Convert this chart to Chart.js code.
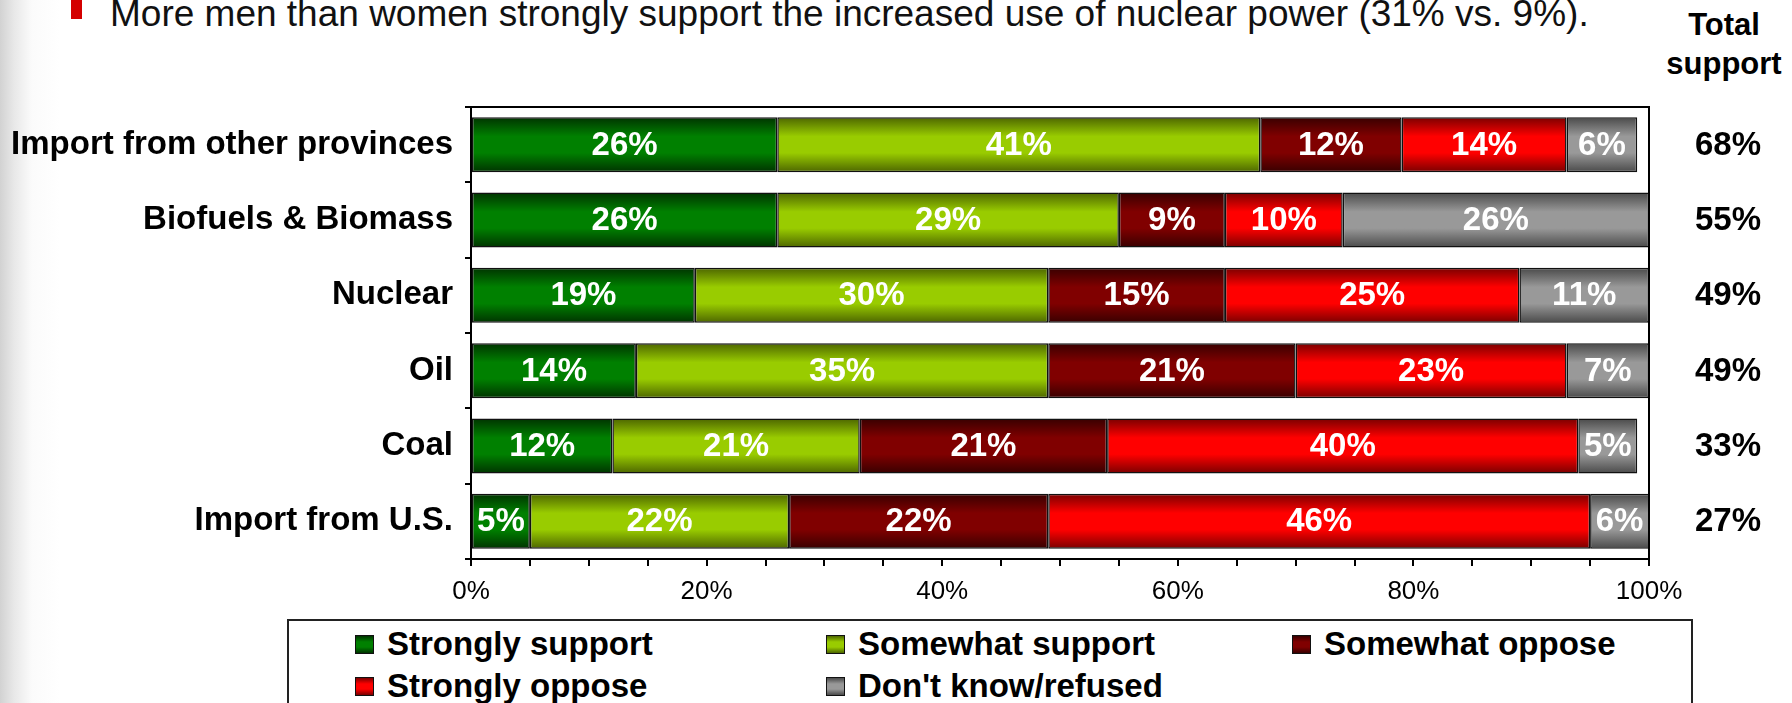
<!DOCTYPE html>
<html>
<head>
<meta charset="utf-8">
<script src="https://cdn.jsdelivr.net/npm/chart.js@4.4.1/dist/chart.umd.min.js"></script>
<style>
  html, body { margin: 0; padding: 0; }
  body {
    width: 1792px; height: 703px; overflow: hidden; position: relative;
    font-family: "Liberation Sans", Arial, sans-serif;
    background: linear-gradient(to right, #d2d2d2 0px, #e8e8e8 14px, #fbfbfb 32px, #fff 60px);
  }
  #chart { position: absolute; left: 0; top: 0; }
  .title { position: absolute; left: 110px; top: -5px; font-size: 37px; line-height: 37px; color: #111; white-space: nowrap; }
  .bullet { position: absolute; left: 71px; top: 0; width: 11px; height: 19px; background: #d40000; }
  .total-head { position: absolute; left: 1654px; top: 5px; width: 140px; text-align: center; font-weight: bold; font-size: 31px; line-height: 39px; color: #000; }
  .legend { position: absolute; left: 287px; top: 619px; width: 1402px; height: 120px; border: 2px solid #222; background: #fff; }
  .item { position: absolute; font-weight: bold; font-size: 33px; line-height: 33px; white-space: nowrap; color: #000; }
  .item i { position: absolute; left: -32px; top: 8px; width: 17px; height: 17px; border: 1px solid #111; }
</style>
</head>
<body>
<div class="bullet"></div>
<div class="title">More men than women strongly support the increased use of nuclear power (31% vs. 9%).</div>
<div class="total-head">Total<br>support</div>
<canvas id="chart" width="1792" height="703"></canvas>
<div class="legend" id="legend"></div>
<script>
const categories = ['Import from other provinces', 'Biofuels & Biomass', 'Nuclear', 'Oil', 'Coal', 'Import from U.S.'];
const seriesNames = ['Strongly support', 'Somewhat support', 'Somewhat oppose', 'Strongly oppose', "Don't know/refused"];

const strongSupport = [26, 26, 19, 14, 12, 5];
const someSupport = [41, 29, 30, 35, 21, 22];
const someOppose = [12, 9, 15, 21, 21, 22];
const strongOppose = [14, 10, 25, 23, 40, 46];
const dontKnow = [6, 26, 11, 7, 5, 6];
const totalSupport = [68, 55, 49, 49, 33, 27];

// mid colour and darker edge colour for each series gradient
const midColors = ['#008000', '#99cc00', '#800000', '#ff0000', '#999999'];
const edgeColors = ['#003300', '#4d6600', '#380000', '#7a0000', '#4a4a4a'];

const BAR_PCT = 0.73;

// vertical gradient for one bar, based on where the y scale puts its row
function barGradient(context, s) {
  const chart = context.chart;
  const area = chart.chartArea;
  const yScale = chart.scales.y;
  if (!area || !yScale || context.dataIndex === undefined) return midColors[s];
  const c = yScale.getPixelForValue(context.dataIndex);
  const h = (area.bottom - area.top) / categories.length * BAR_PCT;
  const g = chart.ctx.createLinearGradient(0, c - h / 2, 0, c + h / 2);
  g.addColorStop(0, edgeColors[s]);
  g.addColorStop(0.35, midColors[s]);
  g.addColorStop(0.65, midColors[s]);
  g.addColorStop(1, edgeColors[s]);
  return g;
}

const allSeries = [strongSupport, someSupport, someOppose, strongOppose, dontKnow];

const datasets = allSeries.map((values, s) => ({
  label: seriesNames[s],
  data: values,
  backgroundColor: (ctx) => barGradient(ctx, s),
  borderColor: '#111',
  borderWidth: 1.5,
  borderSkipped: false,
  categoryPercentage: 1,
  barPercentage: BAR_PCT
}));

// white value labels inside the segments + total support column + frame
const labelsPlugin = {
  id: 'barLabels',
  afterDatasetsDraw(chart) {
    const ctx = chart.ctx;
    const area = chart.chartArea;
    ctx.save();
    ctx.font = 'bold 33px "Liberation Sans", Arial, sans-serif';
    ctx.textAlign = 'center';
    ctx.textBaseline = 'middle';
    ctx.fillStyle = '#fff';
    chart.data.datasets.forEach((ds, di) => {
      const meta = chart.getDatasetMeta(di);
      meta.data.forEach((bar, i) => {
        const right = Math.min(bar.x, area.right);
        const x = (right + bar.base) / 2;
        ctx.fillText(ds.data[i] + '%', x, bar.y + 1);
      });
    });

    // total support on the right
    ctx.fillStyle = '#000';
    const yScale = chart.scales.y;
    totalSupport.forEach((v, i) => {
      ctx.fillText(v + '%', 1728, yScale.getPixelForValue(i) + 1);
    });

    // top and right edges of the plot frame
    ctx.strokeStyle = '#000';
    ctx.lineWidth = 2;
    ctx.beginPath();
    ctx.moveTo(area.left - 6, area.top);
    ctx.lineTo(area.right, area.top);
    ctx.lineTo(area.right, area.bottom);
    ctx.stroke();
    ctx.restore();
  }
};

new Chart(document.getElementById('chart'), {
  type: 'bar',
  data: { labels: categories, datasets: datasets },
  options: {
    indexAxis: 'y',
    responsive: false,
    animation: false,
    layout: { padding: { left: 0, top: 107, right: 143, bottom: 0 } },
    plugins: {
      legend: { display: false },
      tooltip: { enabled: false }
    },
    scales: {
      x: {
        stacked: true,
        min: 0,
        max: 100,
        afterFit: (scale) => { scale.height = 144; },
        border: { display: true, color: '#000', width: 2 },
        grid: { drawOnChartArea: false, drawTicks: true, tickLength: 7, color: '#000', lineWidth: 2 },
        ticks: {
          stepSize: 5,
          autoSkip: false,
          maxRotation: 0,
          padding: 10,
          color: '#000',
          font: { family: '"Liberation Sans", Arial, sans-serif', size: 26 },
          callback: (v) => (v % 20 === 0 ? v + '%' : '')
        }
      },
      y: {
        stacked: true,
        afterFit: (scale) => { scale.width = 471; },
        border: { display: true, color: '#000', width: 2 },
        grid: { offset: true, drawOnChartArea: false, drawTicks: true, tickLength: 6, color: '#000', lineWidth: 2 },
        ticks: {
          padding: 12,
          color: '#000',
          font: { family: '"Liberation Sans", Arial, sans-serif', size: 33, weight: 'bold' }
        }
      }
    }
  },
  plugins: [labelsPlugin]
});

// legend box below the chart, three columns
const legendBox = document.getElementById('legend');
const legendPos = [[98, 6], [569, 6], [1035, 6], [98, 48], [569, 48]];
seriesNames.forEach((name, s) => {
  const item = document.createElement('div');
  item.className = 'item';
  item.style.left = legendPos[s][0] + 'px';
  item.style.top = legendPos[s][1] + 'px';
  item.innerHTML = `<i style="background: linear-gradient(to bottom, ${edgeColors[s]}, ${midColors[s]} 35%, ${midColors[s]} 65%, ${edgeColors[s]})"></i>${name}`;
  legendBox.appendChild(item);
});
</script>
</body>
</html>
